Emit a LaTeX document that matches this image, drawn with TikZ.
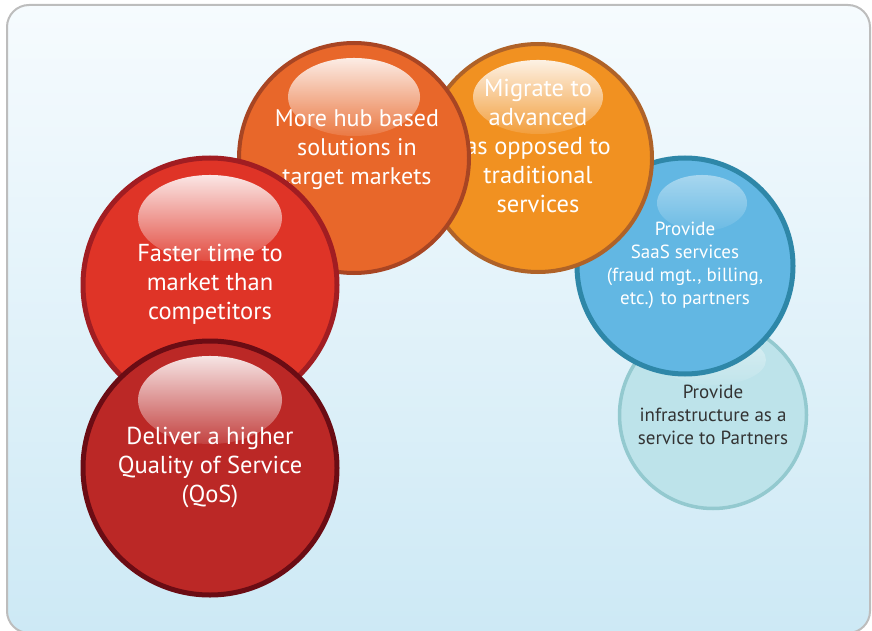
\documentclass[tikz,border=0pt]{standalone}
\usepackage{fontspec}
\setmainfont{PT Sans}
\usetikzlibrary{fadings}

\definecolor{panetop}{HTML}{F6FBFE}
\definecolor{panebot}{HTML}{CDE9F5}
\definecolor{paneline}{HTML}{BDBDBD}
\definecolor{hubfill}{HTML}{E8672A}
\definecolor{hubline}{HTML}{A84523}
\definecolor{migfill}{HTML}{F19121}
\definecolor{migline}{HTML}{AF6228}
\definecolor{fastfill}{HTML}{DF3427}
\definecolor{fastline}{HTML}{A11D22}
\definecolor{qosfill}{HTML}{BB2826}
\definecolor{qosline}{HTML}{6B0C14}
\definecolor{saasfill}{HTML}{62B7E3}
\definecolor{saasline}{HTML}{2E87A8}
\definecolor{infrafill}{HTML}{BDE3EA}
\definecolor{infraline}{HTML}{93C9CF}

\tikzfading[name=gloss, top color=transparent!12, bottom color=transparent!88]

\tikzset{
  bubble/.style={circle, draw, line width=4pt, inner sep=0pt},
  bigtext/.style={align=center, text=white, font=\fontsize{24.5}{29}\selectfont},
  smalltext/.style={align=center, text=white, font=\fontsize{19}{23}\selectfont},
  shine/.style={fill=white, path fading=gloss},
}

\begin{document}
\begin{tikzpicture}[x=1pt,y=-1pt]
\useasboundingbox (0,0) rectangle (872,631);

% backdrop
\shade[top color=panetop, bottom color=panebot, draw=paneline, line width=2pt, rounded corners=22pt]
  (7,5) rectangle (870,633);

% right hand pair
\node[bubble, minimum size=187pt, fill=infrafill, draw=infraline, line width=3.5pt] (infra) at (713,415) {};
\fill[shine, fill opacity=.5] (713,360) ellipse [x radius=53pt, y radius=25pt];
\node[smalltext, text=black!80] (infratext) at (713,415)
  {Provide\\infrastructure as a\\service to Partners};

\node[bubble, minimum size=216pt, fill=saasfill, draw=saasline, line width=5pt] (saas) at (685,266) {};
\fill[shine, fill opacity=.5] (702,203) ellipse [x radius=45pt, y radius=28pt];
\node[smalltext] (saastext) at (685,265)
  {Provide\\SaaS services\\(fraud mgt., billing,\\etc.) to partners};

% top arc
\node[bubble, minimum size=228pt, fill=migfill, draw=migline] (mig) at (538,158) {};
\fill[shine] (538,97) ellipse [x radius=65pt, y radius=37pt];
\node[bigtext] (migtext) at (538,146)
  {Migrate to\\advanced\\as opposed to\\traditional\\services};

\node[bubble, minimum size=230pt, fill=hubfill, draw=hubline] (hub) at (354,158) {};
\fill[shine] (354,97) ellipse [x radius=66pt, y radius=39pt];
\node[bigtext, font=\fontsize{24}{29}\selectfont] (hubtext) at (357,150)
  {More hub based\\solutions in\\target markets};

% left hand pair
\node[bubble, minimum size=254pt, fill=fastfill, draw=fastline, line width=5pt] (fast) at (210,285) {};
\fill[shine] (210,218) ellipse [x radius=72pt, y radius=43pt];
\node[bigtext] (fasttext) at (210,284)
  {Faster time to\\market than\\competitors};

\node[bubble, minimum size=254pt, fill=qosfill, draw=qosline, line width=5pt] (qos) at (210,468) {};
\fill[shine] (210,400) ellipse [x radius=72pt, y radius=44pt];
\node[bigtext] (qostext) at (210,468)
  {Deliver a higher\\Quality of Service\\(QoS)};

\end{tikzpicture}
\end{document}
